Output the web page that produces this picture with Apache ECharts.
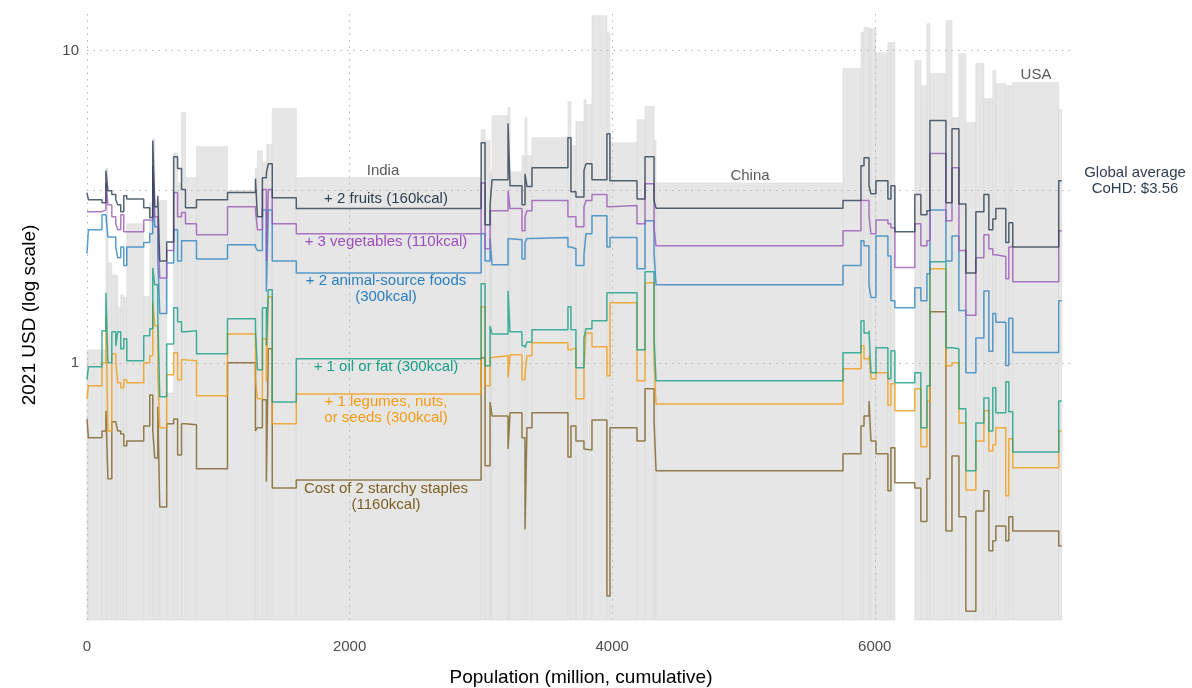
<!DOCTYPE html>
<html>
<head>
<meta charset="utf-8">
<title>Cost of a healthy diet by food group</title>
<script src="https://cdn.jsdelivr.net/npm/echarts@6/dist/echarts.min.js"></script>
<style>
  html, body { margin: 0; padding: 0; background: #ffffff; }
  #chart { width: 1192px; height: 688px; }
</style>
</head>
<body>
<div id="chart"></div>
<script>
// Countries ordered along the x axis; each country's width is its population (million).
const population = [11, 103, 30, 15, 30, 30, 15, 23, 23, 23,
  129, 46, 23, 15, 23, 15, 53, 53, 30, 30,
  30, 84, 236, 213, 15, 38, 30, 15, 30, 183,
  1408,
  30, 38, 15, 122, 15, 91, 23, 15, 38, 274,
  23, 38, 61, 15, 46, 114, 23, 206, 61, 69, 15,
  1424,
  137, 23, 38, 15, 38, 91, 23, 30,
  152, 46, 46, 23, 122, 46, 53, 53, 76,
  61, 38, 30, 23, 76, 23, 30, 350, 23];

// Grey background columns (USD per person per day); null = not available.
const dietCost = [1.10, 1.10, 1.10, 4.2, 2.09, 1.91, 1.90, 1.50, 1.65, 1.62,
  2.79, 1.63, 3.26, 5.22, 3.33, 3.26, 3.31, 0.80, 4.7, 3.77,
  6.33, 3.92, 4.92, 3.56, 4.19, 4.78, 4.38, 5.0, 5.0, 6.52,
  3.92,
  5.58, 5.15, 4.09, 6.19, 6.57, 4.09, 4.61, 6.10, 4.61, 5.26,
  6.86, 4.96, 5.92, 6.96, 6.72, 12.95, 11.42, 5.07, 6.01, 6.62, 5.15,
  3.77,
  8.76, 11.42, 11.85, 11.76, 11.76, 9.85, 10.61, 10.61,
  null, 9.29, 7.72, 12.2, 8.44, 12.48, 6.10, 9.78, 5.88,
  9.09, 7.02, 7.02, 8.63, 7.84, 7.72, 7.72, 7.90, 6.47];

// Cumulative cost of the healthy diet basket, one array per added food group.
const staples = [0.66, 0.575, 0.605, 0.702, 0.425, 0.647, 0.638, 0.605, 0.592, 0.542,
  0.562, 0.628, 0.789, 0.605, 0.496, 0.723, 0.345, 0.638, 0.661, 0.507,
  0.638, 0.633, 0.458, 1.00, 0.605, 0.619, 0.761, 0.416, 1.109, 0.397,
  0.421,
  1.038, 0.468, 0.749, 0.676, 0.530, 0.692, 0.575, 0.293, 0.619, 0.692,
  0.499, 0.628, 0.562, 0.530, 0.526, 0.656, 0.179, 0.619, 0.562, 0.826, 0.652,
  0.451,
  0.511, 0.628, 0.676, 0.755, 0.562, 0.511, 0.389, 0.534,
  0.413, 0.397, 0.310, 0.425, 1.457, 0.289, 0.503, 0.321, 0.160,
  0.335, 0.389, 0.250, 0.269, 0.300, 0.269, 0.321, 0.289, 0.259];

const legumes = [0.767, 0.844, 1.000, 1.425, 0.605, 1.069, 1.015, 0.863, 0.832, 0.883,
  0.863, 1.000, 1.053, 1.557, 1.314, 0.929, 0.619, 0.916, 1.077, 0.883,
  1.022, 1.015, 0.784, 1.238, 0.883, 0.767, 1.194, 0.870, 1.628, 0.638,
  0.795,
  1.512, 0.844, 1.038, 1.053, 0.896, 1.061, 0.883, 0.922, 1.053, 1.159,
  1.101, 1.117, 0.767, 0.964, 1.247, 1.126, 0.909, 1.557, 0.876, 1.805, 1.015,
  0.738,
  0.957, 1.134, 1.030, 1.053, 0.889, 0.929, 0.733, 0.857,
  0.702, 0.826, 0.538, 0.755, 2.001, 0.978, 1.000, 0.642, 0.391,
  0.562, 0.702, 0.522, 0.546, 0.619, 0.375, 0.571, 0.461, 0.605];

const oilFat = [0.883, 0.971, 1.266, 1.676, 1.000, 1.257, 1.134, 1.257, 1.109, 1.194,
  1.015, 1.221, 1.285, 2.016, 1.779, 1.425, 0.778, 1.150, 1.501, 1.353,
  1.257, 1.266, 1.069, 1.384, 1.285, 0.950, 1.501, 1.134, 1.714, 0.749,
  1.030,
  1.792, 0.978, 1.314, 1.238, 1.701, 1.257, 1.134, 1.117, 1.167, 1.276,
  1.512, 1.276, 0.964, 1.203, 1.285, 1.363, 1.676, 1.676, 1.101, 1.957, 1.185,
  0.876,
  1.077, 1.363, 1.247, 1.266, 0.929, 1.117, 0.889, 1.093,
  0.863, 0.929, 0.619, 0.844, 2.107, 1.117, 1.109, 0.712, 0.451,
  0.642, 0.772, 0.605, 0.832, 0.692, 0.870, 0.697, 0.518, 0.755];

const animalSource = [2.24, 2.67, 2.98, 2.98, 2.53, 2.53, 2.35, 2.17, 2.35, 2.05,
  2.35, 2.43, 2.59, 3.92, 2.73, 2.17, 1.44, 2.09, 2.67, 2.12,
  2.46, 2.46, 2.15, 2.39, 2.35, 2.29, 3.09, 1.69, 3.09, 2.12,
  1.94,
  2.59, 2.12, 2.50, 2.06, 2.50, 2.48, 2.15, 2.43, 2.50, 2.52,
  2.35, 2.32, 2.05, 2.22, 2.59, 2.96, 2.35, 2.52, 2.00, 2.85, 2.24,
  1.78,
  2.05, 2.46, 2.37, 1.77, 1.62, 2.55, 2.20, 1.58,
  1.50, 1.74, 1.58, 1.93, 3.09, 2.12, 2.55, 1.47, 0.93,
  1.20, 1.70, 1.09, 1.44, 1.35, 0.98, 1.39, 1.08, 1.58];

const vegetables = [3.05, 3.05, 3.09, 3.77, 3.21, 2.94, 2.79, 2.67, 2.98, 2.63,
  2.63, 2.87, 2.85, 4.28, 2.94, 2.73, 1.87, 2.29, 3.51, 2.94,
  3.03, 2.79, 2.57, 3.16, 3.09, 2.67, 3.59, 2.12, 3.59, 2.79,
  2.59,
  3.77, 2.32, 3.07, 3.07, 3.56, 3.12, 2.65, 2.94, 3.07, 3.31,
  2.94, 2.94, 2.73, 3.16, 3.31, 3.46, 3.16, 3.19, 2.79, 3.75, 2.69,
  2.37,
  2.65, 3.31, 3.31, 2.96, 2.59, 2.87, 2.79, 2.71,
  2.02, 2.79, 2.37, 2.46, 4.68, 2.85, 4.22, 2.29, 1.42,
  2.17, 2.57, 2.32, 2.22, 2.19, 1.86, 2.35, 1.82, 2.65];

const fruits = [3.51, 3.33, 3.26, 4.13, 3.56, 3.46, 3.33, 3.21, 3.05, 3.43,
  3.35, 3.14, 2.92, 5.15, 3.16, 3.43, 2.12, 2.44, 4.57, 4.19,
  3.59, 3.14, 3.33, 3.51, 3.89, 2.94, 3.92, 4.06, 4.34, 3.38,
  3.12,
  5.07, 2.77, 3.21, 3.86, 5.84, 3.69, 3.21, 4.03, 3.67, 4.22,
  5.26, 3.53, 3.40, 4.13, 4.34, 3.86, 5.42, 3.83, 3.35, 4.57, 3.31,
  3.13,
  3.31, 4.28, 4.54, 3.69, 3.48, 3.83, 3.35, 3.69,
  2.63, 3.46, 2.98, 3.07, 5.97, 3.26, 5.62, 3.23, 1.94,
  3.05, 3.46, 2.67, 2.89, 3.12, 2.43, 2.81, 2.35, 3.83];

const globalAverage = 3.56;
const yTicks = [1, 10];
const xTicks = [0, 2000, 4000, 6000];

// ---- layout / style constants ----
const Y_MIN = 0.15, Y_MAX = 13.5, X_MAX = 7525;
const FONT = '"Liberation Sans", Arial, Helvetica, sans-serif';
const GRID_STYLE = { color: '#b5b5b5', width: 1, type: [1.5, 5] };

// cumulative population gives each country's left edge
const starts = [];
let acc = 0;
population.forEach(p => { starts.push(acc); acc += p; });
const total = acc;

const barData = population.map((p, i) => [starts[i], starts[i] + p, dietCost[i] == null ? '-' : dietCost[i]]);

function stepData(values) {
  const d = values.map((v, i) => [starts[i], v]);
  d.push([total, values[values.length - 1]]);
  return d;
}

const groups = [
  { name: 'Cost of 2 starchy staples', values: staples, color: '#7c6124' },
  { name: '+ 1 legumes, nuts, or seeds', values: legumes, color: '#f39c12' },
  { name: '+ 1 oil or fat', values: oilFat, color: '#16a085' },
  { name: '+ 2 animal-source foods', values: animalSource, color: '#2e86c1' },
  { name: '+ 3 vegetables', values: vegetables, color: '#9b59b6' },
  { name: '+ 2 fruits', values: fruits, color: '#2c3e50' }
];

const lineSeries = groups.map(g => ({
  name: g.name,
  type: 'line',
  step: 'end',
  data: stepData(g.values),
  showSymbol: false,
  symbol: 'none',
  z: 4,
  lineStyle: { color: g.color, width: 1.5, opacity: 0.8 },
  itemStyle: { color: g.color },
  emphasis: { disabled: true }
}));

const gridLines = []
  .concat(yTicks.map(v => ({ yAxis: v })))
  .concat([{ yAxis: globalAverage }])
  .concat(xTicks.map(v => ({ xAxis: v })));

const chart = echarts.init(document.getElementById('chart'), null, { renderer: 'canvas' });

function text(x, y, str, color, size) {
  return {
    type: 'text', x: x, y: y, z: 10,
    style: {
      text: str, fill: color, font: (size || 15) + 'px ' + FONT,
      textAlign: 'center', verticalAlign: 'middle', lineHeight: 16
    }
  };
}

chart.setOption({
  animation: false,
  backgroundColor: '#ffffff',
  grid: {
    left: 87, right: 1192 - 1075, top: 10, bottom: 68,
    containLabel: false, outerBoundsMode: 'none'
  },
  xAxis: {
    type: 'value', min: 0, max: X_MAX, interval: 2000,
    name: 'Population (million, cumulative)',
    nameLocation: 'middle', nameGap: 48,
    nameTextStyle: { fontFamily: FONT, fontSize: 19, color: '#000' },
    axisLine: { show: false }, axisTick: { show: false },
    splitLine: { show: false },
    axisLabel: {
      fontFamily: FONT, fontSize: 15, color: '#4d4d4d', margin: 19,
      showMaxLabel: false,
      formatter: v => (xTicks.indexOf(v) >= 0 ? String(v) : '')
    }
  },
  yAxis: {
    type: 'log', logBase: 10, min: Y_MIN, max: Y_MAX,
    name: '2021 USD (log scale)',
    nameLocation: 'middle', nameGap: 48, nameRotate: 90,
    nameTextStyle: { fontFamily: FONT, fontSize: 19, color: '#000' },
    axisLine: { show: false }, axisTick: { show: false },
    splitLine: { show: false },
    axisLabel: {
      fontFamily: FONT, fontSize: 15, color: '#4d4d4d', margin: 8,
      showMinLabel: false, showMaxLabel: false,
      formatter: v => (yTicks.some(t => Math.abs(t - v) < 1e-6 * t) ? String(Math.round(v)) : '')
    }
  },
  series: [
    {
      name: 'Cost of a healthy diet',
      type: 'custom',
      z: 1,
      data: barData,
      encode: { x: [0, 1], y: 2 },
      renderItem: function (params, api) {
        const v = api.value(2);
        if (!isFinite(v)) return null;
        const p0 = api.coord([api.value(0), v]);
        const p1 = api.coord([api.value(1), Y_MIN]);
        return {
          type: 'rect',
          shape: { x: p0[0], y: p0[1], width: p1[0] - p0[0], height: p1[1] - p0[1] },
          style: { fill: '#e6e6e6', stroke: '#dadada', lineWidth: 0.6 }
        };
      },
      markLine: {
        silent: true, z: 3, symbol: 'none',
        label: { show: false },
        lineStyle: GRID_STYLE,
        data: gridLines
      }
    }
  ].concat(lineSeries),
  graphic: [
    text(383, 171, 'India', '#595959'),
    text(750, 176, 'China', '#595959'),
    text(1036, 75, 'USA', '#595959'),
    text(386, 199, '+ 2 fruits (160kcal)', '#2c3e50'),
    text(386, 242, '+ 3 vegetables (110kcal)', '#9b4fbd'),
    text(386, 289, '+ 2 animal-source foods\n(300kcal)', '#2a7fbf'),
    text(386, 367, '+ 1 oil or fat (300kcal)', '#16a085'),
    text(386, 410, '+ 1 legumes, nuts,\nor seeds (300kcal)', '#f39c12'),
    text(386, 497, 'Cost of 2 starchy staples\n(1160kcal)', '#7c6124'),
    text(1135, 181, 'Global average\nCoHD: $3.56', '#2c3e50')
  ]
});
</script>
</body>
</html>
